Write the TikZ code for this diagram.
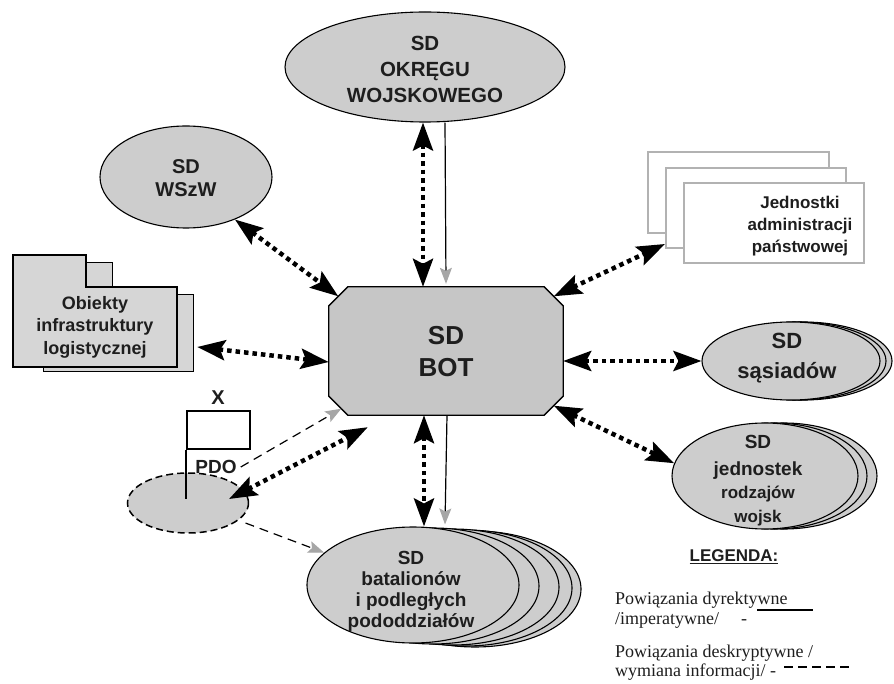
\documentclass[tikz,border=0pt]{standalone}
\usepackage{fontspec}
\setmainfont{Liberation Serif}
\setsansfont{Liberation Sans}
\usetikzlibrary{arrows.meta,calc,shapes.geometric}
\definecolor{ellfill}{HTML}{CDCDCD}
\definecolor{botfill}{HTML}{C6C6C6}
\definecolor{objfill}{HTML}{D6D6D6}
\definecolor{grayhead}{HTML}{A6A6A6}
\definecolor{txt}{HTML}{1E1E1E}
\begin{document}
\begin{tikzpicture}[x=1pt,y=-1pt,
  ell/.style={ellipse, draw=black, line width=1.1pt, fill=ellfill, inner sep=0pt},
  lbl/.style 2 args={font=\sffamily\bfseries\fontsize{#1}{#2}\selectfont, align=center, text=txt, inner sep=0pt},
  dotarrow/.style={line width=4.5pt, dash pattern=on 4.5pt off 4pt, black,
     {Stealth[length=28pt,width=20pt,inset=5pt]}-{Stealth[length=28pt,width=20pt,inset=5pt]}},
  grayarrow/.style={line width=1.2pt, black, -{Stealth[length=16pt,width=12pt,inset=3pt,color=grayhead]}},
  graydash/.style={grayarrow, dash pattern=on 9pt off 6pt},
  admbox/.style={rectangle, draw=gray!60, line width=2pt, fill=white, inner sep=0pt},
  anchorbox/.style={rectangle, draw=none, inner sep=0pt},
  legtxt/.style={font=\fontsize{18}{18}\selectfont, inner sep=0pt, anchor=base west, text=txt},
]
\useasboundingbox[fill=white] (0,0) rectangle (894,684);

% ---------- SD OKREGU WOJSKOWEGO
\node[ell, minimum width=280pt, minimum height=110pt] (okr) at (425,67) {};
\node[lbl={20.5}{26}] (okrT) at (425,69) {SD\\OKRĘGU\\WOJSKOWEGO};

% ---------- SD WSzW
\node[ell, minimum width=172pt, minimum height=102pt] (wszw) at (186,177) {};
\node[lbl={20}{23}] (wszwT) at (186,178.5) {SD\\WSzW};

% ---------- SD BOT (chamfered)
\node[anchorbox, minimum width=234pt, minimum height=128pt] (bot) at (446,351) {};
\draw[line width=1.3pt, fill=botfill]
  ($(bot.north west)+(19,0)$) -- ($(bot.north east)+(-19,0)$) -- ($(bot.north east)+(0,19)$)
  -- ($(bot.south east)+(0,-19)$) -- ($(bot.south east)+(-19,0)$) -- ($(bot.south west)+(19,0)$)
  -- ($(bot.south west)+(0,-19)$) -- ($(bot.north west)+(0,19)$) -- cycle;
\node[lbl={26}{32}] (botT) at (446,352) {SD\\BOT};
\coordinate (botNW) at ($(bot.north west)+(9.5,9.5)$);
\coordinate (botNE) at ($(bot.north east)+(-9.5,9.5)$);
\coordinate (botSE) at ($(bot.south east)+(-9.5,-9.5)$);
\coordinate (botSW) at ($(bot.south west)+(9.5,-9.5)$);

% ---------- Obiekty infrastruktury logistycznej (folders)
\node[anchorbox, minimum width=180pt, minimum height=117pt] (obj) at (103,313.5) {};
\draw[line width=1pt, fill=objfill] (43,295) rectangle (193,372);
\draw[line width=1pt, fill=objfill] (86,263) rectangle (112,290);
\draw[line width=1.1pt, fill=objfill] (13,255) -- (86,255) -- (86,287) -- (177,287) -- (177,367) -- (13,367) -- cycle;
\node[lbl={18}{22.5}] (objT) at (95,327) {Obiekty\\infrastruktury\\logistycznej};

% ---------- Jednostki administracji panstwowej
\node[admbox, minimum width=181pt, minimum height=81pt] (adm1) at (738.5,192.5) {};
\node[admbox, minimum width=180pt, minimum height=80pt] (adm2) at (756,208) {};
\node[admbox, minimum width=180pt, minimum height=80pt] (adm3) at (774,223) {};
\node[lbl={17}{22}] (admT) at (800,226.5) {Jednostki\\administracji\\państwowej};

% ---------- SD sasiadow
\node[ell, minimum width=178pt, minimum height=78pt] (sas3) at (803,361) {};
\node[ell, minimum width=178pt, minimum height=78pt] (sas2) at (797,361) {};
\node[ell, minimum width=178pt, minimum height=78pt] (sas) at (791,361) {};
\node[lbl={22}{30}] (sasT) at (787,358) {SD\\sąsiadów};

% ---------- SD jednostek rodzajow wojsk
\node[ell, minimum width=186pt, minimum height=106pt] (jed3) at (784,476) {};
\node[ell, minimum width=186pt, minimum height=106pt] (jed2) at (774,476) {};
\node[ell, minimum width=186pt, minimum height=106pt] (jed) at (765,476) {};
\node[lbl={19}{22}, anchor=base] (jedT1) at (758,448) {SD};
\node[lbl={19}{22}, anchor=base] (jedT2) at (758,475) {jednostek};
\node[lbl={17}{22}, anchor=base] (jedT3) at (758,498) {rodzajów};
\node[lbl={17}{22}, anchor=base] (jedT4) at (758,522) {wojsk};

% ---------- SD batalionow
\node[ell, minimum width=212pt, minimum height=116pt] (bat5) at (475,589) {};
\node[ell, minimum width=212pt, minimum height=116pt] (bat4) at (466,588) {};
\node[ell, minimum width=212pt, minimum height=116pt] (bat3) at (453,587) {};
\node[ell, minimum width=212pt, minimum height=116pt] (bat2) at (433,586) {};
\node[ell, minimum width=212pt, minimum height=116pt] (bat) at (413,585) {};
\node[lbl={19}{21}] (batT) at (411,591.5) {SD\\batalionów\\i podległych\\pododdziałów};

% ---------- PDO
\node[ell, dash pattern=on 7pt off 4pt, line width=1.5pt, minimum width=121pt, minimum height=60pt] (pdoe) at (188,503) {};
\node[rectangle, draw=black, line width=1.8pt, fill=white, minimum width=63pt, minimum height=38pt, inner sep=0pt] (flag) at (218.5,430) {};
\draw[line width=1.5pt] (flag.south west) -- ++(0,49);
\node[lbl={20}{20}] (xlbl) at (218,398) {X};
\node[lbl={19}{19}] (pdoT) at (216,467) {PDO};

% ---------- connectors (thick dotted, bidirectional)
\draw[dotarrow] ($(okr.south)+(-2,0)$) -- ($(bot.north)+(-23,0)$);
\draw[dotarrow] (wszw.-41) -- (botNW);
\draw[dotarrow] ($(obj.east)+(4,33.5)$) -- ($(bot.west)+(0,11)$);
\draw[dotarrow] (botNE) -- ($(adm2.south west)+(0,-5)$);
\draw[dotarrow] ($(bot.east)+(0,10)$) -- (sas.west);
\draw[dotarrow] (botSE) -- (jed.172);
\draw[dotarrow] ($(bot.south)+(-22,0)$) -- ($(bat.north)+(11,0)$);
\draw[dotarrow] ($(pdoe.center)+(41,-4)$) -- ($(bot.south west)+(39,12)$);

% ---------- connectors (gray heads)
\draw[grayarrow] ($(okr.south)+(20,0)$) -- ($(bot.north)+(0,-3)$);
\draw[grayarrow] ($(bot.south)+(1,0)$) -- ($(bat.north)+(32,-2)$);
\draw[graydash] ($(pdoT.east)+(4,0)$) -- ($(botSW)+(3,3)$);
\draw[graydash] ($(pdoe.-20)+(8,2)$) -- (bat.160);

% ---------- legend
\node[lbl={17}{17}] (leg) at (734,557) {\underline{LEGENDA:}};
\node[legtxt] (lg1) at (615,604) {Powiązania dyrektywne};
\node[legtxt] (lg2) at (615,624) {/imperatywne/\hspace{22pt}-};
\node[legtxt] (lg3) at (615,657) {Powiązania deskryptywne /};
\node[legtxt] (lg4) at (615,676) {wymiana informacji/ -};
\coordinate (s1) at (757,610);
\coordinate (s2) at (813,610);
\draw[line width=1.3pt] (s1) -- (s2);
\coordinate (d1) at (784,667);
\coordinate (d2) at (852,667);
\draw[line width=1.3pt, dash pattern=on 9pt off 5pt] (d1) -- (d2);
\end{tikzpicture}
\end{document}
